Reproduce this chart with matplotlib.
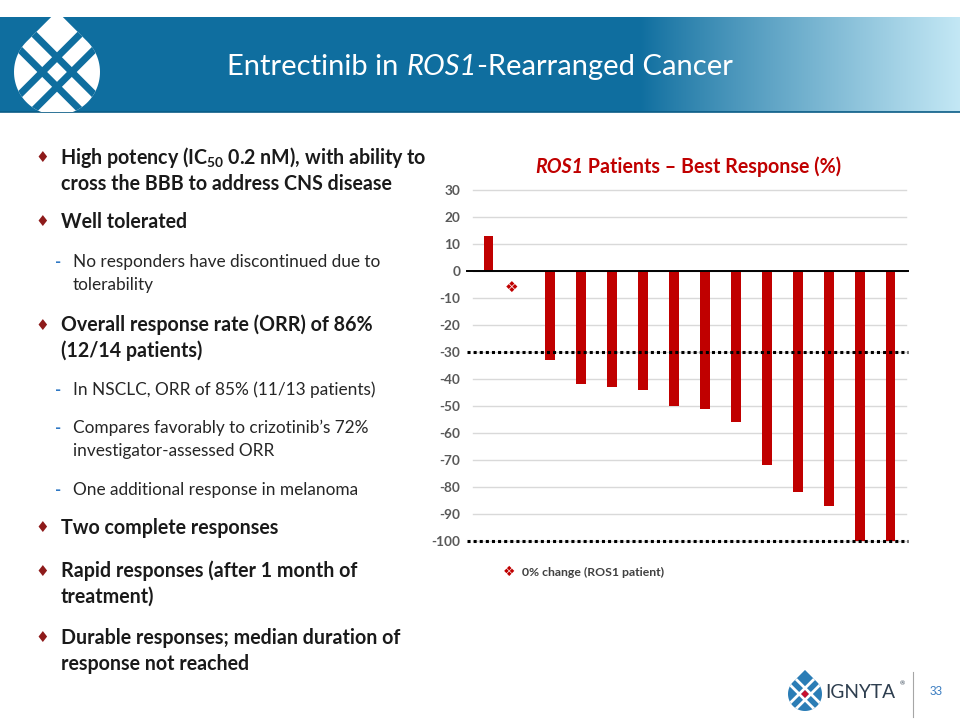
#!/usr/bin/env python3
"""
Slide: Entrectinib in ROS1-Rearranged Cancer (best response waterfall).
"""

import numpy as np
import matplotlib

matplotlib.use("Agg")
import matplotlib.pyplot as plt
from matplotlib.patches import Polygon, Rectangle

# ---- chart data ----
patients = list(range(1, 15))
best_response = [13, 0, -33, -42, -43, -44, -50, -51, -56, -72, -82, -87, -100, -100]
zero_change_index = 1  # patient 2: 0% change, shown with a marker
zero_marker_value = -6
y_ticks = [30, 20, 10, 0, -10, -20, -30, -40, -50, -60, -70, -80, -90, -100]
threshold_lines = [-30, -100]

# ---- slide text ----
slide_title_runs = [("Entrectinib in ", "normal"), ("ROS1", "italic"),
                    ("-Rearranged Cancer", "normal")]
chart_title_runs = [("ROS1", "italic"), (" Patients – Best Response (%)", "normal")]
legend_label = "0% change (ROS1 patient)"
bullet_items = [
    ("main", [r"High potency (IC$_{\mathbf{50}}$ 0.2 nM), with ability to",
              "cross the BBB to address CNS disease"]),
    ("main", ["Well tolerated"]),
    ("sub", ["No responders have discontinued due to", "tolerability"]),
    ("main", ["Overall response rate (ORR) of 86%", "(12/14 patients)"]),
    ("sub", ["In NSCLC, ORR of 85% (11/13 patients)"]),
    ("sub", ["Compares favorably to crizotinib’s 72%", "investigator-assessed ORR"]),
    ("sub", ["One additional response in melanoma"]),
    ("main", ["Two complete responses"]),
    ("main", ["Rapid responses (after 1 month of", "treatment)"]),
    ("main", ["Durable responses; median duration of", "response not reached"]),
]
page_number = "33"
company = "IGNYTA"

# ---- style ----
BAND_BLUE = "#0F6E9F"
BAND_LIGHT = "#C4E8F5"
RED = "#C00000"
BULLET_RED = "#8E1B1B"
DASH_BLUE = "#2F78C4"

plt.rcParams["font.family"] = ["Lato", "DejaVu Sans"]
plt.rcParams["mathtext.fontset"] = "custom"
plt.rcParams["mathtext.rm"] = "Lato"
plt.rcParams["mathtext.it"] = "Lato:italic"
plt.rcParams["mathtext.bf"] = "Lato:bold"

W, H = 960, 720
fig = plt.figure(figsize=(W / 100, H / 100), dpi=100)
fig.patch.set_facecolor("white")
renderer = fig.canvas.get_renderer()

# background axes in pixel coordinates (y down)
bg = fig.add_axes([0, 0, 1, 1])
bg.set_xlim(0, W)
bg.set_ylim(H, 0)
bg.axis("off")


def draw_runs(ax, xc, y, runs, **kw):
    """Centered line of text made of normal / italic pieces, on a common baseline."""
    pieces = []
    for txt, style in runs:
        t = ax.text(0, y, txt, style=style, ha="left", va="baseline", **kw)
        pieces.append(t)
    widths = [p.get_window_extent(renderer).width for p in pieces]
    x = xc - sum(widths) / 2
    for p, w in zip(pieces, widths):
        p.set_x(x)
        x += w


# header band with gradient on the right
band_top, band_bot = 17, 112
xs = np.arange(W)
t = np.clip((xs - 640) / (W - 640), 0, 1) ** 0.9
c0 = np.array(matplotlib.colors.to_rgb(BAND_BLUE))
c1 = np.array(matplotlib.colors.to_rgb(BAND_LIGHT))
grad = (c0[None, :] * (1 - t[:, None]) + c1[None, :] * t[:, None])[None, :, :]
bg.imshow(grad, extent=(0, W, band_bot, band_top), aspect="auto", zorder=1)
bg.plot([0, W], [band_bot, band_bot], color="#0A5C86", lw=1.2, zorder=2)
bg.set_xlim(0, W)
bg.set_ylim(H, 0)
band_clip = Rectangle((0, band_top), W, band_bot - band_top, transform=bg.transData)


def draw_logo(ax, cx, cy, r, fill, line_color, lw, center_color=None, clip=None):
    """Drop shaped lattice logo, drawn in pixel coords (y down)."""
    ang = np.radians(np.linspace(135, 405, 80))
    pts = [(cx, cy - r * np.sqrt(2))]
    pts += [(cx + r * np.cos(a), cy - r * np.sin(a)) for a in ang]
    drop = Polygon(pts, closed=True, facecolor=fill, edgecolor="none", zorder=3)
    ax.add_patch(drop)
    if clip is not None:
        drop.set_clip_path(clip)
    c = 0.243 * r
    s = np.array([-1.6 * r, 1.6 * r])
    for sign in (-1, 1):
        for k in (1, -1):
            # lines along (1,1) and (1,-1) directions (y up), offset by c
            ox, oy = sign * c / np.sqrt(2), -k * sign * c / np.sqrt(2)
            dx, dy = 1 / np.sqrt(2), k / np.sqrt(2)
            ln, = ax.plot(cx + ox + s * dx, cy - (oy + s * dy), color=line_color,
                          lw=lw, solid_capstyle="butt", zorder=4)
            ln.set_clip_path(drop)
    if center_color is not None:
        d = 0.16 * r * np.sqrt(2)
        ax.add_patch(Polygon([(cx, cy - d), (cx + d, cy), (cx, cy + d), (cx - d, cy)],
                             closed=True, facecolor=center_color, edgecolor="none", zorder=5))


draw_logo(bg, 57, 72, 43, "white", BAND_BLUE, 5.0, clip=band_clip)

draw_runs(bg, 480, 75, slide_title_runs, color="white", fontsize=21, zorder=5)

# ---- left bullet text ----
first_line_y = [158, 222, 262, 325, 390, 428, 490, 528, 571, 638]
for (level, lines), y0 in zip(bullet_items, first_line_y):
    if level == "main":
        bg.text(42, y0, "♦", color=BULLET_RED, fontsize=11, ha="center", va="center",
                family="DejaVu Sans")
        for i, line in enumerate(lines):
            # mathtext lines get a little extra left bearing
            x0 = 59.5 if "$" in line else 61
            bg.text(x0, y0 + i * 25.5, line, color="#1A1A1A", fontsize=14.1,
                    fontweight="bold", ha="left", va="center")
    else:
        bg.text(58, y0, "-", color=DASH_BLUE, fontsize=12, fontweight="bold",
                ha="center", va="center")
        for i, line in enumerate(lines):
            bg.text(73, y0 + i * 23, line, color="#262626", fontsize=12.4,
                    ha="left", va="center")

# ---- chart ----
draw_runs(bg, 688, 173, chart_title_runs, color=RED, fontsize=14.1, fontweight="bold")

ax_l, ax_r, ax_t, ax_b = 473, 906, 190, 541
ax = fig.add_axes([ax_l / W, 1 - ax_b / H, (ax_r - ax_l) / W, (ax_b - ax_t) / H])
ax.set_facecolor("none")
x = np.arange(len(patients))
ax.bar(x, best_response, width=0.32, color=RED, zorder=3)
ax.set_xlim(-0.5, len(patients) - 0.5)
ax.set_ylim(min(y_ticks), max(y_ticks))
ax.set_yticks(y_ticks)
ax.set_yticklabels([str(v) for v in y_ticks], fontweight="bold")
ax.set_xticks([])
ax.tick_params(axis="y", length=0, pad=9, labelcolor="#595959", labelsize=9.8)
for sp in ax.spines.values():
    sp.set_visible(False)
for v in y_ticks:
    ax.axhline(v, color="#D9D9D9", lw=1.0, zorder=1, clip_on=False)

ext_l = -6 / (ax_r - ax_l)
ext_r = 1 + 2 / (ax_r - ax_l)
ax.axhline(0, xmin=ext_l, xmax=ext_r, color="black", lw=1.4, zorder=4, clip_on=False)
for v in threshold_lines:
    ax.axhline(v, xmin=ext_l, xmax=ext_r, color="black", lw=2.2,
               linestyle=(0, (1, 1)), zorder=5, clip_on=False)

ax.text(zero_change_index - 0.25, zero_marker_value, "❖", color=RED, fontsize=11,
        ha="center", va="center", family="DejaVu Sans", zorder=6)

# legend
bg.text(509, 572, "❖", color=RED, fontsize=10, ha="center", va="center",
        family="DejaVu Sans")
bg.text(522, 572, legend_label, color="#404040", fontsize=8.8, fontweight="bold",
        ha="left", va="center")

# ---- footer ----
draw_logo(bg, 805, 694, 17, "#2B7DB6", "white", 2.0, center_color="#C8102E")
bg.text(825, 692, company, color="#2E3E4F", fontsize=13.8, ha="left", va="center")
bg.text(902, 684, "®", color="#2E3E4F", fontsize=4.5, ha="center", va="center")
bg.plot([913, 913], [672, 717], color="#A6A6A6", lw=0.8)
bg.text(936, 692, page_number, color="#3A7CC0", fontsize=8.5, ha="center", va="center",
        family="Liberation Sans")

fig.savefig("out.png", dpi=100)
